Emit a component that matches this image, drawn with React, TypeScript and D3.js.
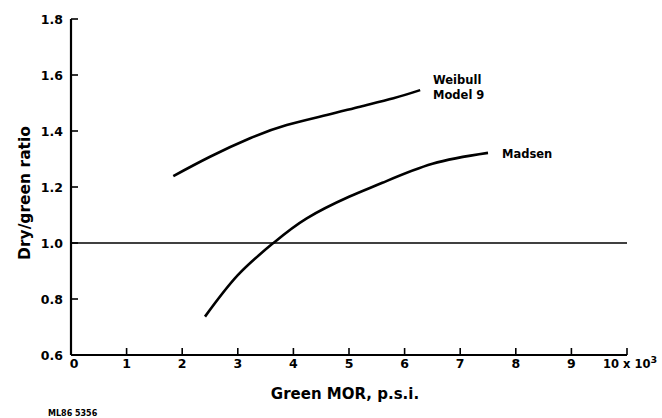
import * as d3 from "d3";

// Green MOR (thousands p.s.i.) vs dry/green ratio
const weibullX = [1.84, 2.5, 3.22, 3.88, 4.6, 5.2, 5.8, 6.28];
const weibullY = [1.239, 1.308, 1.374, 1.421, 1.457, 1.487, 1.517, 1.546];

const madsenX = [2.41, 3.0, 3.64, 4.24, 5.0, 5.6, 6.5, 7.5];
const madsenY = [0.737, 0.885, 1.0, 1.088, 1.165, 1.215, 1.283, 1.322];

const xTicks = [0, 1, 2, 3, 4, 5, 6, 7, 8, 9, 10];
const yTicks = [0.6, 0.8, 1.0, 1.2, 1.4, 1.6, 1.8];

const font = "'DejaVu Sans', sans-serif";

export default function App() {
  const width = 662;
  const height = 418;

  const x = d3.scaleLinear().domain([0, 10]).range([71, 627]);
  const y = d3.scaleLinear().domain([0.6, 1.8]).range([355, 19]);

  const line = d3
    .line<[number, number]>()
    .x((d) => x(d[0]))
    .y((d) => y(d[1]))
    .curve(d3.curveNatural);

  const weibull = weibullX.map((v, i) => [v, weibullY[i]] as [number, number]);
  const madsen = madsenX.map((v, i) => [v, madsenY[i]] as [number, number]);

  return (
    <svg
      width={width}
      height={height}
      style={{ position: "absolute", left: 0, top: 0, background: "#fff" }}
      fontFamily={font}
    >
      {/* axes */}
      <line x1={x(0)} x2={x(0)} y1={y(1.8)} y2={y(0.6)} stroke="#000" strokeWidth={2.2} />
      <line x1={x(0)} x2={x(10)} y1={y(0.6)} y2={y(0.6)} stroke="#000" strokeWidth={2.2} />

      {yTicks.map((t) => (
        <g key={"y" + t}>
          <line x1={x(0)} x2={x(0) + 7} y1={y(t)} y2={y(t)} stroke="#000" strokeWidth={1.6} />
          <text
            x={63}
            y={y(t)}
            dy="0.36em"
            textAnchor="end"
            fontSize={12.5}
            fontWeight="bold"
          >
            {t.toFixed(1)}
          </text>
        </g>
      ))}

      {xTicks.map((t) => (
        <g key={"x" + t}>
          {t > 0 && (
            <line x1={x(t)} x2={x(t)} y1={y(0.6)} y2={y(0.6) - 7} stroke="#000" strokeWidth={1.6} />
          )}
          {t < 10 && (
            <text
              x={x(t) + (t === 0 ? 3 : 0)}
              y={368}
              textAnchor="middle"
              fontSize={12.5}
              fontWeight="bold"
            >
              {t}
            </text>
          )}
        </g>
      ))}
      <text x={603} y={368} fontSize={11.5} fontWeight="bold">
        10 x 10
        <tspan dy={-5} fontSize={9.5}>3</tspan>
      </text>

      {/* reference line at ratio 1.0 */}
      <line x1={x(0)} x2={x(10)} y1={y(1.0)} y2={y(1.0)} stroke="#000" strokeWidth={1.4} />

      {/* curves */}
      <path d={line(weibull) ?? ""} fill="none" stroke="#000" strokeWidth={2.6} />
      <path d={line(madsen) ?? ""} fill="none" stroke="#000" strokeWidth={2.6} />

      <text x={433} y={84} fontSize={11.5} fontWeight="bold">Weibull</text>
      <text x={433} y={99} fontSize={11.5} fontWeight="bold">Model 9</text>
      <text x={502} y={158} fontSize={11.5} fontWeight="bold">Madsen</text>

      {/* axis titles */}
      <text
        transform={`translate(30,193) rotate(-90)`}
        textAnchor="middle"
        fontSize={15.5}
        fontWeight="bold"
      >
        Dry/green ratio
      </text>
      <text x={345} y={399} textAnchor="middle" fontSize={15} fontWeight="bold">
        Green MOR, p.s.i.
      </text>

      <text x={48} y={416} fontSize={8} fontWeight="bold">ML86 5356</text>
    </svg>
  );
}
